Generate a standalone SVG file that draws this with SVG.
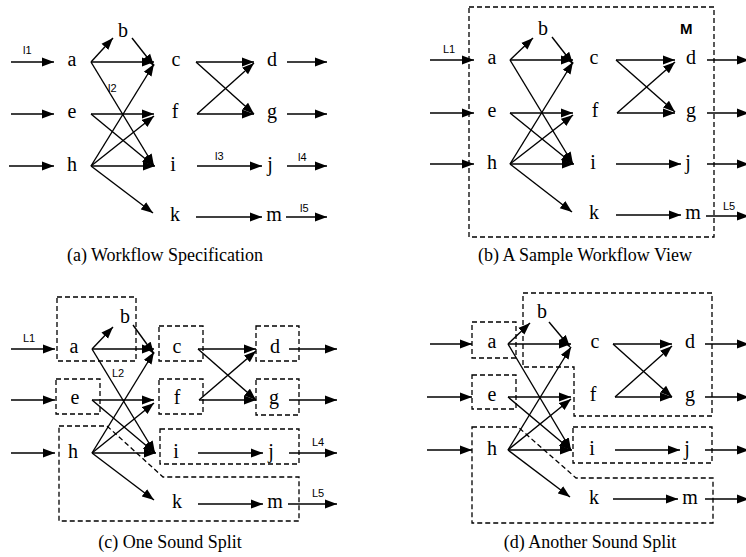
<svg xmlns="http://www.w3.org/2000/svg" width="746" height="557" viewBox="0 0 746 557">
  <style>
    .n { font-family: "Liberation Serif", "Times New Roman", serif; font-size: 20px; fill: #000; text-anchor: middle; }
    .cap { font-family: "Liberation Serif", "Times New Roman", serif; font-size: 18px; fill: #000; text-anchor: middle; }
    .lbl { font-family: "Liberation Sans", Arial, sans-serif; font-size: 11px; fill: #000; }
    .mlbl { font-family: "Liberation Sans", Arial, sans-serif; font-size: 15px; font-weight: bold; fill: #000; }
    .e line { stroke: #000; stroke-width: 1.4; marker-end: url(#ah); }
    .box { fill: none; stroke: #000; stroke-width: 1.3; stroke-dasharray: 5 3; }
  </style>
  <defs>
    <marker id="ah" markerUnits="userSpaceOnUse" viewBox="0 0 13 10" markerWidth="13" markerHeight="10" refX="12" refY="5" orient="auto">
      <path d="M0,0.5 L12,5 L0,9.5 z" fill="#000"/>
    </marker>
  </defs>
  <rect width="746" height="557" fill="#fff"/>

  <!-- (a) Workflow Specification -->
  <g id="spec-nodes">
    <g id="spec-a"><text class="n" x="72" y="66">a</text></g>
    <g id="spec-b"><text class="n" x="123" y="37">b</text></g>
    <g id="spec-c"><text class="n" x="176" y="66">c</text></g>
    <g id="spec-d"><text class="n" x="272" y="66">d</text></g>
    <g id="spec-e"><text class="n" x="72" y="118">e</text></g>
    <g id="spec-f"><text class="n" x="175" y="118">f</text></g>
    <g id="spec-g"><text class="n" x="272" y="118">g</text></g>
    <g id="spec-h"><text class="n" x="72" y="171">h</text></g>
    <g id="spec-i"><text class="n" x="173" y="171">i</text></g>
    <g id="spec-j"><text class="n" x="270" y="171">j</text></g>
    <g id="spec-k"><text class="n" x="175" y="221">k</text></g>
    <g id="spec-m"><text class="n" x="274" y="221">m</text></g>
  </g>
  <g id="spec-edges" class="e">
    <line x1="11" y1="62" x2="54" y2="62"/>
    <line x1="11" y1="114" x2="54" y2="114"/>
    <line x1="9" y1="166" x2="54" y2="166"/>
    <line x1="91" y1="62" x2="113" y2="38"/>
    <line x1="91" y1="62" x2="154" y2="62"/>
    <line x1="91" y1="62" x2="154" y2="166"/>
    <line x1="132" y1="38" x2="154" y2="66"/>
    <line x1="91" y1="114" x2="154" y2="114"/>
    <line x1="91" y1="114" x2="154" y2="166"/>
    <line x1="91" y1="166" x2="154" y2="64"/>
    <line x1="91" y1="166" x2="154" y2="116"/>
    <line x1="91" y1="166" x2="155" y2="166"/>
    <line x1="91" y1="166" x2="153" y2="213"/>
    <line x1="196" y1="62" x2="254" y2="62"/>
    <line x1="196" y1="62" x2="254" y2="114"/>
    <line x1="197" y1="114" x2="254" y2="63"/>
    <line x1="197" y1="114" x2="254" y2="114"/>
    <line x1="197" y1="166" x2="262" y2="166"/>
    <line x1="196" y1="217" x2="262" y2="217"/>
    <line x1="287" y1="62" x2="327" y2="62"/>
    <line x1="287" y1="114" x2="327" y2="114"/>
    <line x1="287" y1="166" x2="327" y2="166"/>
    <line x1="286" y1="217" x2="327" y2="217"/>
  </g>
  <g id="spec-labels">
    <text class="lbl" x="23" y="54">l1</text>
    <text class="lbl" x="108" y="92">l2</text>
    <text class="lbl" x="215" y="160">l3</text>
    <text class="lbl" x="298" y="161">l4</text>
    <text class="lbl" x="300" y="212">l5</text>
  </g>
  <text class="cap" x="165" y="261">(a) Workflow Specification</text>

  <!-- (b) A Sample Workflow View -->
  <g id="view-M"><rect class="box" x="469" y="7" width="245" height="230"/><text class="mlbl" x="680" y="34">M</text></g>
  <g id="view-nodes">
    <g id="view-a"><text class="n" x="492" y="64">a</text></g>
    <g id="view-b"><text class="n" x="543" y="35">b</text></g>
    <g id="view-c"><text class="n" x="594" y="64">c</text></g>
    <g id="view-d"><text class="n" x="691" y="64">d</text></g>
    <g id="view-e"><text class="n" x="492" y="117">e</text></g>
    <g id="view-f"><text class="n" x="595" y="117">f</text></g>
    <g id="view-g"><text class="n" x="691" y="117">g</text></g>
    <g id="view-h"><text class="n" x="492" y="169">h</text></g>
    <g id="view-i"><text class="n" x="593" y="169">i</text></g>
    <g id="view-j"><text class="n" x="688" y="169">j</text></g>
    <g id="view-k"><text class="n" x="594" y="219">k</text></g>
    <g id="view-m"><text class="n" x="693" y="219">m</text></g>
  </g>
  <g id="view-edges" class="e">
    <line x1="430" y1="60" x2="474" y2="60"/>
    <line x1="430" y1="113" x2="474" y2="113"/>
    <line x1="430" y1="164" x2="474" y2="164"/>
    <line x1="510" y1="60" x2="533" y2="38"/>
    <line x1="510" y1="60" x2="573" y2="60"/>
    <line x1="510" y1="60" x2="573" y2="164"/>
    <line x1="552" y1="37" x2="573" y2="64"/>
    <line x1="510" y1="113" x2="573" y2="113"/>
    <line x1="510" y1="113" x2="573" y2="164"/>
    <line x1="510" y1="164" x2="573" y2="62"/>
    <line x1="510" y1="164" x2="573" y2="115"/>
    <line x1="510" y1="164" x2="574" y2="164"/>
    <line x1="510" y1="164" x2="572" y2="212"/>
    <line x1="616" y1="60" x2="675" y2="60"/>
    <line x1="616" y1="60" x2="675" y2="112"/>
    <line x1="617" y1="113" x2="675" y2="62"/>
    <line x1="617" y1="113" x2="675" y2="113"/>
    <line x1="616" y1="164" x2="681" y2="164"/>
    <line x1="616" y1="215" x2="681" y2="215"/>
    <line x1="707" y1="60" x2="749" y2="60"/>
    <line x1="707" y1="113" x2="749" y2="113"/>
    <line x1="707" y1="164" x2="749" y2="164"/>
    <line x1="706" y1="216" x2="749" y2="216"/>
  </g>
  <g id="view-labels">
    <text class="lbl" x="443" y="53">L1</text>
    <text class="lbl" x="723" y="210">L5</text>
  </g>
  <text class="cap" x="585" y="261">(b) A Sample Workflow View</text>

  <!-- (c) One Sound Split -->
  <g id="split1-boxes">
    <rect id="split1-ab" class="box" x="57" y="297" width="79" height="64"/>
    <rect id="split1-cbox" class="box" x="159" y="326" width="44" height="35"/>
    <rect id="split1-dbox" class="box" x="256" y="326" width="43" height="35"/>
    <rect id="split1-ebox" class="box" x="56" y="379" width="44" height="35"/>
    <rect id="split1-fbox" class="box" x="159" y="379" width="44" height="35"/>
    <rect id="split1-gbox" class="box" x="256" y="379" width="43" height="36"/>
    <rect id="split1-ij" class="box" x="160" y="429" width="139" height="35"/>
    <polygon id="split1-hkm" class="box" points="59,426 107,426 163,477 299,477 299,521 59,521"/>
  </g>
  <g id="split1-nodes">
    <g id="split1-a"><text class="n" x="74" y="353">a</text></g>
    <g id="split1-b"><text class="n" x="125" y="323">b</text></g>
    <g id="split1-c"><text class="n" x="177" y="353">c</text></g>
    <g id="split1-d"><text class="n" x="275" y="353">d</text></g>
    <g id="split1-e"><text class="n" x="75" y="404">e</text></g>
    <g id="split1-f"><text class="n" x="177" y="404">f</text></g>
    <g id="split1-g"><text class="n" x="274" y="404">g</text></g>
    <g id="split1-h"><text class="n" x="73" y="458">h</text></g>
    <g id="split1-i"><text class="n" x="176" y="458">i</text></g>
    <g id="split1-j"><text class="n" x="271" y="458">j</text></g>
    <g id="split1-k"><text class="n" x="177" y="508">k</text></g>
    <g id="split1-m"><text class="n" x="275" y="508">m</text></g>
  </g>
  <g id="split1-edges" class="e">
    <line x1="11" y1="349" x2="55" y2="349"/>
    <line x1="11" y1="400" x2="55" y2="400"/>
    <line x1="11" y1="453" x2="55" y2="453"/>
    <line x1="92" y1="349" x2="113" y2="327"/>
    <line x1="92" y1="349" x2="154" y2="349"/>
    <line x1="92" y1="349" x2="155" y2="453"/>
    <line x1="133" y1="325" x2="154" y2="354"/>
    <line x1="92" y1="400" x2="154" y2="400"/>
    <line x1="92" y1="400" x2="155" y2="453"/>
    <line x1="92" y1="453" x2="154" y2="352"/>
    <line x1="92" y1="453" x2="154" y2="403"/>
    <line x1="92" y1="453" x2="156" y2="453"/>
    <line x1="92" y1="453" x2="154" y2="500"/>
    <line x1="198" y1="349" x2="256" y2="349"/>
    <line x1="198" y1="349" x2="256" y2="400"/>
    <line x1="199" y1="400" x2="256" y2="351"/>
    <line x1="199" y1="400" x2="256" y2="400"/>
    <line x1="198" y1="453" x2="263" y2="453"/>
    <line x1="198" y1="504" x2="263" y2="504"/>
    <line x1="289" y1="349" x2="337" y2="349"/>
    <line x1="289" y1="400" x2="337" y2="400"/>
    <line x1="289" y1="453" x2="337" y2="453"/>
    <line x1="288" y1="504" x2="337" y2="504"/>
  </g>
  <g id="split1-labels">
    <text class="lbl" x="23" y="342">L1</text>
    <text class="lbl" x="112" y="377">L2</text>
    <text class="lbl" x="312" y="446">L4</text>
    <text class="lbl" x="312" y="497">L5</text>
  </g>
  <text class="cap" x="170" y="548">(c) One Sound Split</text>

  <!-- (d) Another Sound Split -->
  <g id="split2-boxes">
    <rect id="split2-abox" class="box" x="472" y="322" width="44" height="36"/>
    <rect id="split2-ebox" class="box" x="472" y="375" width="44" height="34"/>
    <polygon id="split2-bcdfg" class="box" points="523,293 712,293 712,416 574,416 574,367 523,367"/>
    <rect id="split2-ij" class="box" x="573" y="427" width="139" height="36"/>
    <polygon id="split2-hkm" class="box" points="472,427 518,427 576,478 713,478 713,523 472,523"/>
  </g>
  <g id="split2-nodes">
    <g id="split2-a"><text class="n" x="492" y="348">a</text></g>
    <g id="split2-b"><text class="n" x="542" y="318">b</text></g>
    <g id="split2-c"><text class="n" x="595" y="348">c</text></g>
    <g id="split2-d"><text class="n" x="690" y="348">d</text></g>
    <g id="split2-e"><text class="n" x="492" y="401">e</text></g>
    <g id="split2-f"><text class="n" x="593" y="401">f</text></g>
    <g id="split2-g"><text class="n" x="690" y="401">g</text></g>
    <g id="split2-h"><text class="n" x="492" y="455">h</text></g>
    <g id="split2-i"><text class="n" x="592" y="455">i</text></g>
    <g id="split2-j"><text class="n" x="687" y="455">j</text></g>
    <g id="split2-k"><text class="n" x="594" y="504">k</text></g>
    <g id="split2-m"><text class="n" x="690" y="504">m</text></g>
  </g>
  <g id="split2-edges" class="e">
    <line x1="430" y1="344" x2="472" y2="344"/>
    <line x1="427" y1="397" x2="472" y2="397"/>
    <line x1="427" y1="450" x2="472" y2="450"/>
    <line x1="508" y1="344" x2="530" y2="323"/>
    <line x1="508" y1="344" x2="571" y2="344"/>
    <line x1="508" y1="344" x2="571" y2="450"/>
    <line x1="549" y1="322" x2="570" y2="347"/>
    <line x1="508" y1="397" x2="571" y2="397"/>
    <line x1="508" y1="397" x2="571" y2="450"/>
    <line x1="508" y1="450" x2="571" y2="347"/>
    <line x1="508" y1="450" x2="571" y2="399"/>
    <line x1="508" y1="450" x2="572" y2="450"/>
    <line x1="508" y1="450" x2="570" y2="497"/>
    <line x1="613" y1="344" x2="672" y2="344"/>
    <line x1="613" y1="344" x2="672" y2="397"/>
    <line x1="615" y1="397" x2="672" y2="346"/>
    <line x1="615" y1="397" x2="672" y2="397"/>
    <line x1="615" y1="450" x2="680" y2="450"/>
    <line x1="613" y1="499" x2="678" y2="499"/>
    <line x1="705" y1="344" x2="749" y2="344"/>
    <line x1="705" y1="397" x2="749" y2="397"/>
    <line x1="705" y1="450" x2="749" y2="450"/>
    <line x1="705" y1="499" x2="749" y2="499"/>
  </g>
  <text class="cap" x="590" y="548">(d) Another Sound Split</text>
</svg>
